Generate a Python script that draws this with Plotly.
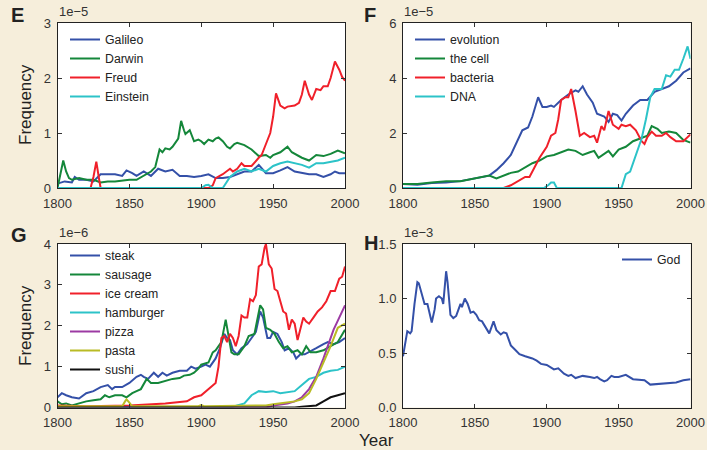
import plotly.graph_objects as go

# ---------------- Panel E (units of 1e-5) ----------------
galileo_years = [1800,1805,1810,1812,1815,1820,1825,1830,1835,1840,1845,1848,1852,1855,1860,1865,1870,1875,1880,1885,1890,1895,1900,1905,1910,1915,1920,1925,1930,1935,1940,1945,1950,1955,1960,1965,1970,1975,1980,1985,1990,1993,1996,2000]
galileo_vals  = [0.08,0.12,0.1,0.2,0.15,0.15,0.12,0.25,0.25,0.25,0.22,0.32,0.27,0.22,0.3,0.22,0.35,0.3,0.33,0.22,0.22,0.2,0.22,0.25,0.18,0.18,0.2,0.25,0.3,0.3,0.42,0.27,0.27,0.32,0.38,0.3,0.28,0.25,0.25,0.2,0.25,0.3,0.27,0.27]

darwin_years = [1800,1802,1804,1806,1808,1810,1815,1820,1825,1830,1835,1840,1845,1850,1855,1860,1865,1868,1870,1871,1873,1875,1878,1880,1884,1886,1888,1889,1892,1895,1898,1900,1902,1905,1908,1910,1912,1915,1918,1920,1923,1925,1930,1935,1940,1945,1948,1950,1955,1960,1963,1965,1970,1975,1980,1985,1990,1995,2000]
darwin_vals  = [0.0,0.25,0.5,0.3,0.18,0.15,0.18,0.15,0.15,0.1,0.12,0.12,0.14,0.15,0.15,0.22,0.3,0.38,0.6,0.7,0.65,0.72,0.7,0.75,0.9,1.22,1.05,0.98,1.05,0.85,0.88,0.85,0.8,0.88,0.85,0.9,0.92,0.85,0.75,0.72,0.8,0.82,0.78,0.7,0.58,0.6,0.55,0.6,0.65,0.75,0.65,0.62,0.55,0.5,0.6,0.58,0.62,0.68,0.63]

freud_years = [1800,1823,1825,1827,1829,1830,1905,1908,1910,1915,1920,1922,1925,1928,1930,1935,1940,1942,1945,1948,1950,1952,1955,1958,1960,1965,1968,1970,1972,1975,1977,1980,1983,1985,1988,1990,1993,1996,1998,2000]
freud_vals  = [0.0,0.0,0.2,0.48,0.15,0.0,0.0,0.05,0.18,0.25,0.35,0.3,0.35,0.45,0.4,0.4,0.55,0.6,0.8,1.0,1.3,1.72,1.5,1.45,1.48,1.5,1.55,1.7,1.95,1.7,1.6,1.8,1.78,1.85,1.85,2.0,2.3,2.15,2.02,1.95]

einstein_years = [1800,1900,1903,1905,1908,1915,1920,1925,1930,1935,1940,1945,1950,1955,1960,1965,1970,1975,1980,1985,1990,1995,2000]
einstein_vals  = [0.0,0.0,0.05,0.06,0.0,0.0,0.2,0.3,0.35,0.3,0.35,0.3,0.4,0.45,0.48,0.45,0.42,0.37,0.45,0.45,0.48,0.5,0.55]

# ---------------- Panel F (units of 1e-5) ----------------
evolution_years = [1800,1810,1820,1830,1840,1850,1855,1860,1865,1870,1875,1880,1883,1887,1890,1894,1897,1900,1903,1905,1908,1910,1915,1920,1922,1925,1928,1932,1935,1940,1943,1946,1949,1952,1955,1960,1965,1970,1975,1980,1985,1990,1995,2000]
evolution_vals  = [0.15,0.12,0.18,0.2,0.25,0.35,0.4,0.45,0.65,0.9,1.2,1.75,2.1,2.2,2.6,3.3,2.95,2.95,3.0,2.95,3.1,3.2,3.4,3.55,3.5,3.7,3.4,3.1,2.7,2.6,2.4,2.7,2.65,2.45,2.7,3.0,3.2,3.2,3.5,3.6,3.7,3.9,4.2,4.35]

cell_years = [1800,1810,1820,1830,1840,1850,1860,1865,1870,1875,1880,1885,1890,1895,1900,1905,1910,1915,1920,1925,1930,1933,1936,1940,1943,1946,1950,1955,1960,1965,1970,1973,1977,1980,1985,1990,1995,2000]
cell_vals  = [0.15,0.15,0.2,0.25,0.25,0.35,0.45,0.35,0.45,0.55,0.6,0.75,0.9,1.0,1.15,1.2,1.3,1.4,1.35,1.2,1.3,1.35,1.1,1.25,1.35,1.15,1.4,1.5,1.7,1.8,1.9,2.25,2.15,2.0,2.05,2.0,1.75,1.65]

bacteria_years = [1800,1870,1875,1880,1885,1888,1892,1895,1900,1903,1906,1908,1910,1913,1915,1917,1920,1923,1926,1930,1933,1935,1938,1940,1943,1946,1950,1952,1955,1958,1962,1966,1968,1970,1973,1976,1980,1983,1986,1990,1995,2000]
bacteria_vals  = [0.0,0.0,0.1,0.25,0.4,0.4,0.8,1.1,1.5,1.9,2.0,2.5,3.2,3.3,3.3,3.6,2.8,1.9,2.0,1.85,1.9,1.65,2.25,2.1,2.8,2.3,2.15,2.3,2.25,2.3,2.1,1.7,1.6,1.85,2.05,1.9,1.9,2.0,1.85,1.7,1.7,1.95]

dna_years = [1800,1898,1901,1903,1905,1907,1952,1955,1958,1960,1963,1966,1969,1972,1975,1978,1980,1983,1986,1989,1992,1995,1998,2000]
dna_vals  = [0.0,0.0,0.1,0.2,0.2,0.0,0.0,0.5,0.6,0.9,1.3,1.8,2.5,3.3,3.6,3.6,3.6,4.1,4.05,4.3,4.3,4.7,5.15,4.7]

# ---------------- Panel G (units of 1e-6) ----------------
steak_years = [1800,1803,1806,1810,1815,1820,1825,1830,1835,1838,1840,1845,1850,1855,1858,1860,1863,1867,1870,1873,1876,1880,1885,1890,1893,1896,1900,1903,1906,1910,1913,1916,1918,1920,1922,1925,1928,1932,1935,1938,1941,1943,1946,1948,1950,1953,1956,1958,1961,1964,1966,1969,1972,1975,1980,1985,1988,1992,1996,2000]
steak_vals  = [0.25,0.35,0.3,0.25,0.22,0.35,0.4,0.5,0.55,0.45,0.5,0.5,0.6,0.75,0.8,0.75,0.7,0.85,0.75,0.85,0.78,0.85,0.9,0.9,1.0,0.95,1.0,1.05,1.0,1.2,1.45,1.8,1.7,1.65,1.4,1.3,1.45,1.55,1.7,1.85,2.35,2.2,1.7,1.7,1.85,1.8,1.6,1.4,1.45,1.35,1.2,1.3,1.3,1.35,1.45,1.55,1.6,1.55,1.6,1.7]

sausage_years = [1800,1803,1806,1810,1815,1820,1825,1830,1833,1836,1840,1845,1848,1852,1855,1858,1862,1865,1870,1875,1880,1885,1888,1892,1895,1898,1900,1905,1908,1910,1914,1917,1919,1921,1923,1926,1930,1933,1937,1941,1943,1945,1948,1951,1954,1957,1960,1963,1967,1970,1973,1976,1980,1985,1990,1995,2000]
sausage_vals  = [0.15,0.08,0.1,0.05,0.1,0.15,0.18,0.2,0.3,0.25,0.3,0.3,0.25,0.35,0.4,0.45,0.7,0.6,0.6,0.65,0.7,0.72,0.78,0.8,0.85,0.95,1.05,1.1,1.35,1.4,1.6,2.15,1.75,1.35,1.3,1.3,1.5,1.75,1.8,2.5,2.4,1.95,1.9,1.8,1.6,1.45,1.5,1.35,1.4,1.3,1.5,1.35,1.35,1.4,1.5,1.6,1.9]

icecream_years = [1800,1820,1850,1875,1890,1895,1900,1905,1910,1912,1914,1916,1918,1920,1922,1924,1926,1928,1930,1932,1934,1936,1938,1940,1942,1944,1945,1947,1949,1951,1953,1955,1957,1959,1961,1963,1965,1967,1969,1971,1973,1975,1978,1981,1984,1987,1990,1993,1996,1998,2000]
icecream_vals  = [0.05,0.03,0.05,0.1,0.15,0.25,0.3,0.45,0.6,1.0,1.7,1.75,1.6,1.8,1.7,1.5,1.75,2.25,2.2,2.2,2.65,2.6,2.75,3.45,3.5,3.9,4.0,3.5,3.4,2.9,2.85,2.6,2.35,2.3,1.9,2.15,2.05,1.65,1.95,2.2,2.1,2.05,2.2,2.35,2.45,2.6,2.85,2.85,3.15,3.2,3.45]

hamburger_years = [1800,1920,1925,1930,1935,1940,1945,1950,1955,1960,1965,1970,1975,1980,1985,1990,1995,2000]
hamburger_vals  = [0.0,0.0,0.05,0.1,0.3,0.4,0.38,0.4,0.35,0.38,0.4,0.55,0.7,0.75,0.85,0.9,0.92,1.0]

pizza_years = [1800,1945,1950,1960,1965,1970,1975,1980,1985,1988,1992,1996,2000]
pizza_vals  = [0.0,0.0,0.05,0.1,0.15,0.25,0.45,0.75,1.2,1.5,1.9,2.2,2.5]

pasta_years = [1800,1845,1847,1848,1850,1852,1898,1900,1902,1945,1950,1955,1960,1965,1970,1975,1980,1985,1990,1995,2000]
pasta_vals  = [0.03,0.03,0.15,0.2,0.12,0.03,0.03,0.06,0.03,0.05,0.08,0.1,0.12,0.15,0.2,0.35,0.7,1.1,1.5,1.95,2.05]

sushi_years = [1800,1965,1970,1980,1985,1990,1995,2000]
sushi_vals  = [0.0,0.0,0.02,0.05,0.15,0.25,0.3,0.35]

# ---------------- Panel H (units of 1e-3) ----------------
god_years = [1800,1802,1803,1805,1806,1808,1810,1811,1813,1815,1817,1818,1820,1822,1823,1825,1827,1828,1830,1831,1833,1835,1837,1840,1841,1843,1845,1847,1849,1851,1853,1855,1858,1860,1863,1865,1868,1870,1872,1875,1878,1881,1885,1890,1893,1896,1900,1905,1908,1912,1915,1917,1920,1925,1930,1933,1935,1937,1940,1942,1945,1947,1950,1955,1960,1965,1968,1972,1980,1985,1990,1995,2000]
god_vals  = [0.47,0.65,0.7,0.68,0.7,0.95,1.15,1.14,1.05,0.95,0.95,0.9,0.78,0.9,1.0,1.02,1.0,0.95,1.25,1.15,0.85,0.82,0.84,0.95,0.92,1.0,0.95,0.87,0.88,0.85,0.8,0.79,0.73,0.68,0.79,0.71,0.67,0.69,0.68,0.57,0.53,0.49,0.47,0.45,0.43,0.4,0.39,0.35,0.36,0.31,0.29,0.3,0.27,0.29,0.28,0.27,0.28,0.26,0.24,0.25,0.29,0.28,0.28,0.3,0.26,0.25,0.25,0.21,0.22,0.22,0.23,0.25,0.26]

BLUE = "#3450a8"
GREEN = "#14873a"
RED = "#f0202a"
CYAN = "#2cc3c8"
PURPLE = "#9c3aa3"
OLIVE = "#b9bb25"
BLACK = "#111111"
PAPER = "#f6eedb"

W, H = 707, 450
def px_x(p): return p / W
def px_y(p): return 1 - p / H

fig = go.Figure()

panels = [
    ("x", "y", "legend", [("Galileo", galileo_years, galileo_vals, BLUE),
                          ("Darwin", darwin_years, darwin_vals, GREEN),
                          ("Freud", freud_years, freud_vals, RED),
                          ("Einstein", einstein_years, einstein_vals, CYAN)]),
    ("x2", "y2", "legend2", [("evolution", evolution_years, evolution_vals, BLUE),
                             ("the cell", cell_years, cell_vals, GREEN),
                             ("bacteria", bacteria_years, bacteria_vals, RED),
                             ("DNA", dna_years, dna_vals, CYAN)]),
    ("x3", "y3", "legend3", [("steak", steak_years, steak_vals, BLUE),
                             ("sausage", sausage_years, sausage_vals, GREEN),
                             ("ice cream", icecream_years, icecream_vals, RED),
                             ("hamburger", hamburger_years, hamburger_vals, CYAN),
                             ("pizza", pizza_years, pizza_vals, PURPLE),
                             ("pasta", pasta_years, pasta_vals, OLIVE),
                             ("sushi", sushi_years, sushi_vals, BLACK)]),
    ("x4", "y4", "legend4", [("God", god_years, god_vals, BLUE)]),
]

for xa, ya, lg, series in panels:
    for name, xs, ys, col in series:
        fig.add_trace(go.Scatter(x=xs, y=ys, name=name, mode="lines",
                                 line=dict(color=col, width=2),
                                 xaxis=xa, yaxis=ya, legend=lg,
                                 cliponaxis=True))

x_left = [px_x(57.5), px_x(345)]
x_right = [px_x(403), px_x(690.5)]
y_top = [px_y(188), px_y(23)]
y_bot = [px_y(407.5), px_y(244)]

tickfont = dict(family="Liberation Sans, Arial, sans-serif", size=13, color="#333333")
common_x = dict(range=[1800, 2000], tickvals=[1800, 1850, 1900, 1950, 2000],
                ticks="inside", ticklen=4, tickcolor="#333", showline=True,
                linecolor="#222", linewidth=1, mirror="ticks", showgrid=False,
                zeroline=False, tickfont=tickfont, fixedrange=True,
                automargin=False, ticklabelstandoff=3)
common_y = dict(ticks="inside", ticklen=4, tickcolor="#333", showline=True,
                linecolor="#222", linewidth=1, mirror="ticks", showgrid=False,
                zeroline=False, tickfont=tickfont, fixedrange=True,
                automargin=False, ticklabelstandoff=3)

fig.update_layout(
    width=W, height=H,
    margin=dict(l=0, r=0, t=0, b=0),
    paper_bgcolor=PAPER,
    plot_bgcolor="#ffffff",
    font=dict(family="Liberation Sans, Arial, sans-serif", color="#222"),
    xaxis=dict(domain=x_left, anchor="y", **common_x),
    yaxis=dict(domain=y_top, anchor="x", range=[0, 3], tickvals=[0, 1, 2, 3], **common_y),
    xaxis2=dict(domain=x_right, anchor="y2", **common_x),
    yaxis2=dict(domain=y_top, anchor="x2", range=[0, 6], tickvals=[0, 2, 4, 6], **common_y),
    xaxis3=dict(domain=x_left, anchor="y3", **common_x),
    yaxis3=dict(domain=y_bot, anchor="x3", range=[0, 4], tickvals=[0, 1, 2, 3, 4], **common_y),
    xaxis4=dict(domain=x_right, anchor="y4", **common_x),
    yaxis4=dict(domain=y_bot, anchor="x4", range=[0, 1.5], tickvals=[0, 0.5, 1.0, 1.5],
                tickformat=".1f", **common_y),
    showlegend=True,
)

legfont = dict(family="Liberation Sans, Arial, sans-serif", size=12.3, color="#222")
leg_common = dict(bgcolor="rgba(0,0,0,0)", borderwidth=0, font=legfont,
                  itemwidth=30, tracegroupgap=0, xanchor="left", yanchor="top",
                  traceorder="normal")
fig.update_layout(
    legend=dict(x=px_x(65), y=px_y(25), **leg_common),
    legend2=dict(x=px_x(410), y=px_y(25), **leg_common),
    legend3=dict(x=px_x(65), y=px_y(241), **leg_common),
    legend4=dict(x=px_x(617), y=px_y(245), **leg_common),
)

ann = []
lab = dict(family="Liberation Sans, Arial, sans-serif", size=20, color="#222")
for txt, x, y in [("<b>E</b>", 9, 15), ("<b>F</b>", 362, 15), ("<b>G</b>", 9, 235), ("<b>H</b>", 362, 243)]:
    ann.append(dict(text=txt, x=px_x(x), y=px_y(y), xref="paper", yref="paper",
                    xanchor="left", yanchor="middle", showarrow=False, font=lab))
small = dict(family="Liberation Sans, Arial, sans-serif", size=13, color="#333")
for txt, x, y in [("1e\u22125", 57, 11), ("1e\u22125", 402, 11), ("1e\u22126", 57, 232), ("1e\u22123", 402, 232)]:
    ann.append(dict(text=txt, x=px_x(x), y=px_y(y), xref="paper", yref="paper",
                    xanchor="left", yanchor="middle", showarrow=False, font=small))
ttl = dict(family="Liberation Sans, Arial, sans-serif", size=17, color="#222")
for y in [105, 326]:
    ann.append(dict(text="Frequency", x=px_x(25), y=px_y(y), xref="paper", yref="paper",
                    xanchor="center", yanchor="middle", showarrow=False, textangle=-90, font=ttl))
ann.append(dict(text="Year", x=px_x(376), y=px_y(440), xref="paper", yref="paper",
                xanchor="center", yanchor="middle", showarrow=False, font=ttl))
fig.update_layout(annotations=ann)

fig.write_html("out.html",
               config={"displayModeBar": False, "staticPlot": True},
               post_script="document.body.style.margin='0';document.body.style.overflow='hidden';"
                           "document.body.style.background='" + PAPER + "';")
